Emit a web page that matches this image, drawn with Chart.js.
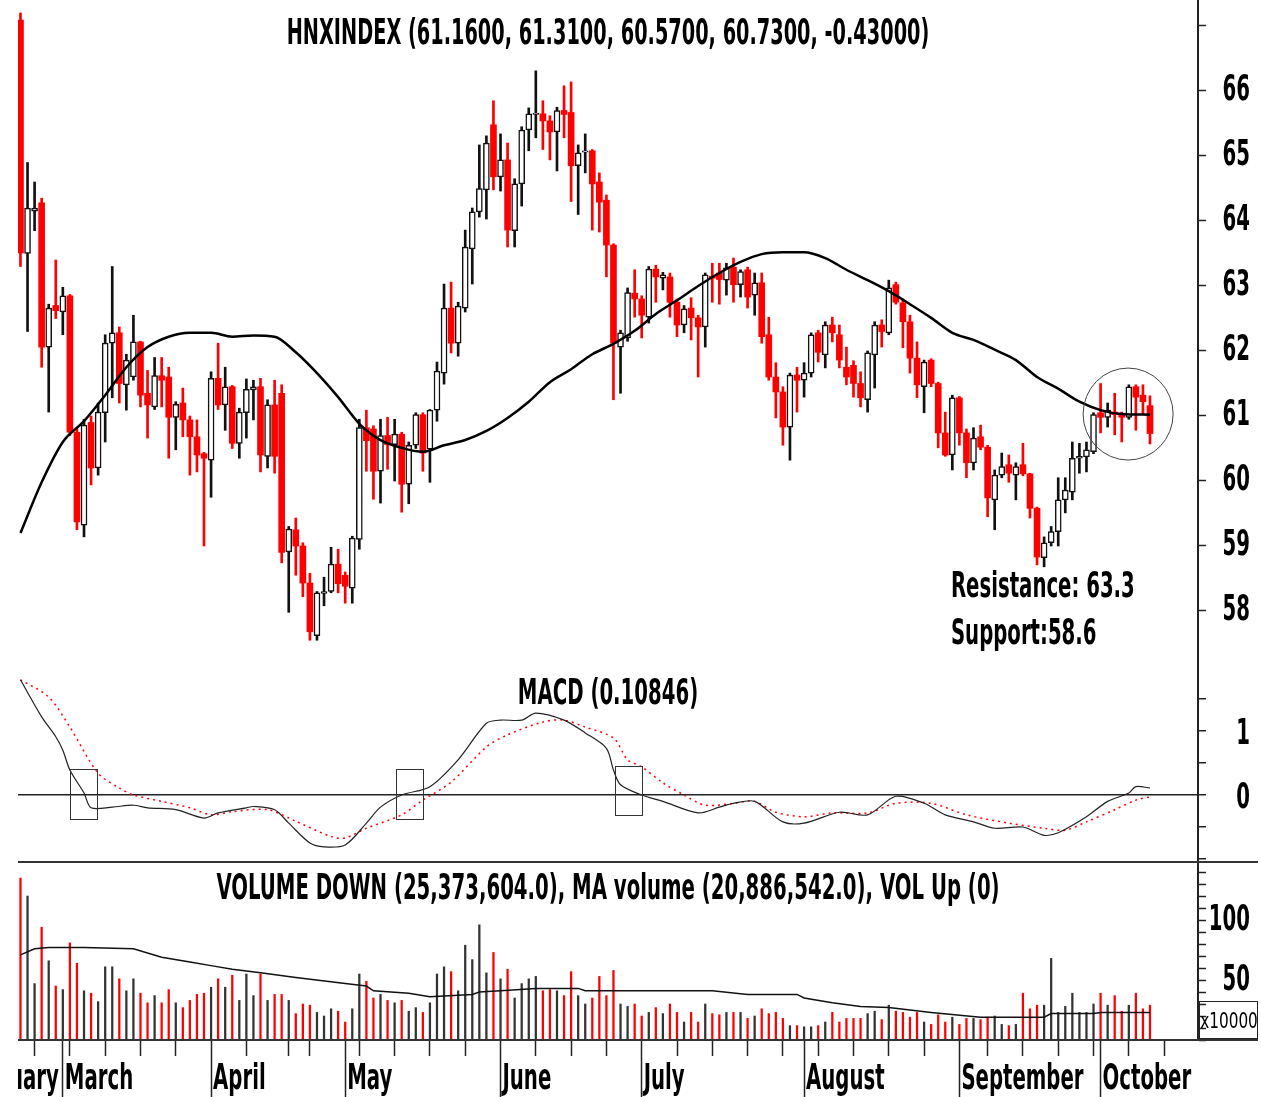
<!DOCTYPE html>
<html lang="en">
<head>
<meta charset="UTF-8">
<title>HNXINDEX</title>
<script src="https://cdn.jsdelivr.net/npm/chart.js"></script>
<style>
  body { margin: 0; background: #fff; }
  .wrap { position: relative; width: 1261px; height: 1097px; overflow: hidden; }
  .wrap canvas { position: absolute; left: 0; }
  #price { top: 0; }
  #macd { top: 668px; }
  #vol { top: 862px; }
  .hline { position: absolute; left: 18px; width: 1240px; height: 2px; background: #333; }
</style>
</head>
<body>
<div class="wrap">
  <canvas id="price" width="1261" height="668"></canvas>
  <canvas id="macd" width="1261" height="194"></canvas>
  <canvas id="vol" width="1261" height="235"></canvas>
  <div class="hline" style="top:861px"></div>
  <div class="hline" style="top:1039px"></div>
</div>

<script>
// candles, one per trading day (index 0 = first visible day)
const openV = [
  67.09,63.5,64.15,64.28,62.06,62.7,62.6,62.85,60.75,59.32,
  60.9,60.2,61.05,62.12,62.28,61.48,61.6,62.14,61.35,61.14,
  61.62,61.6,60.98,61.2,60.94,60.68,60.42,60.32,61.58,61.17,
  61.45,60.58,61.05,61.4,61.45,60.38,61.17,61.35,58.91,59.25,
  59.0,58.43,57.62,58.27,58.3,58.72,58.55,58.35,59.1,60.82,
  60.8,60.15,60.7,60.56,60.72,59.95,60.55,61.02,60.49,61.09,
  61.66,62.66,62.12,62.66,63.57,64.14,64.48,65.48,64.68,64.94,
  63.85,64.57,65.4,65.64,65.65,65.54,65.37,65.7,65.67,64.85,
  65.06,65.08,64.6,64.32,63.63,62.06,62.2,62.89,62.8,62.52,
  63.26,63.12,63.14,62.75,62.4,62.66,62.51,62.37,63.15,63.2,
  63.09,63.29,63.02,63.25,62.86,63.05,62.25,61.6,61.37,60.83,
  61.63,61.55,61.66,62.28,61.94,62.4,62.25,61.75,61.78,61.5,
  61.25,61.94,62.4,62.28,63.02,62.74,62.45,61.89,61.45,61.86,
  61.5,60.74,60.4,61.28,60.74,60.28,60.68,60.52,59.71,60.09,
  60.25,60.09,60.25,60.11,59.58,58.82,59.05,59.22,59.71,59.83,
  60.35,60.37,60.45,61.05,60.98,61.06,61.03,60.98,61.45,61.32,
  61.16
];
const highV = [
  67.2,64.9,64.6,64.35,62.72,63.4,62.98,62.87,60.8,60.95,
  61.0,61.2,62.25,63.3,62.37,61.95,62.55,62.15,61.7,61.9,
  61.9,61.75,61.22,61.43,61.0,60.94,60.44,61.68,62.12,61.75,
  61.47,61.12,61.57,61.55,61.58,61.25,61.55,61.48,59.3,59.43,
  59.05,58.58,58.3,58.52,58.98,58.95,58.6,59.15,60.95,61.09,
  60.85,60.95,60.98,60.95,60.75,60.6,61.05,61.05,61.1,61.83,
  63.03,63.06,62.75,63.86,64.2,65.17,65.31,65.85,65.34,65.2,
  64.65,65.45,65.74,66.31,65.85,65.62,65.75,66.08,66.14,65.17,
  65.34,65.1,64.74,64.4,63.65,62.32,62.97,63.25,62.85,63.3,
  63.32,63.21,63.2,62.8,62.7,62.82,62.55,63.2,63.35,63.35,
  63.35,63.43,63.25,63.29,63.2,63.2,62.52,61.82,61.45,61.66,
  61.75,61.82,62.28,62.32,62.45,62.52,62.4,62.06,61.85,61.68,
  62.0,62.45,62.48,63.09,63.06,62.8,62.55,62.14,61.86,61.88,
  61.52,61.06,61.32,61.3,60.8,60.82,60.86,60.55,60.17,60.43,
  60.4,60.28,60.58,60.12,59.6,59.14,59.3,60.05,60.05,60.6,
  60.58,60.6,61.05,61.5,61.2,61.35,61.06,61.48,61.48,61.48,
  61.31
];
const lowV = [
  63.3,62.3,63.85,61.75,61.06,62.5,62.25,60.7,59.25,59.14,
  59.94,60.09,60.6,61.28,61.2,61.09,61.55,61.14,60.66,61.1,
  61.14,60.35,60.48,60.68,60.09,60.14,59.0,59.75,61.1,60.78,
  60.5,60.35,60.66,60.94,60.14,60.2,60.12,58.74,57.98,58.55,
  58.22,57.55,57.55,58.08,58.28,58.28,58.12,58.12,58.95,60.15,
  59.72,59.66,60.18,60.0,59.52,59.65,60.5,60.15,59.98,60.92,
  61.49,61.97,61.92,62.6,63.03,64.06,64.03,64.48,64.46,63.6,
  63.6,64.23,65.08,65.28,65.1,64.94,64.77,65.28,64.3,64.1,
  64.74,63.86,63.83,63.14,61.25,61.35,62.15,62.52,62.2,62.43,
  62.75,62.94,62.52,62.22,62.28,62.17,61.6,62.06,62.75,62.72,
  62.86,62.75,62.83,62.66,62.55,62.12,61.55,60.97,60.55,60.32,
  61.06,61.29,61.6,61.83,61.74,62.14,61.74,61.48,61.29,61.14,
  61.06,61.43,62.06,62.25,62.72,62.05,61.66,61.28,61.05,61.45,
  60.51,60.38,60.17,60.55,60.05,60.17,60.48,59.45,59.25,60.05,
  59.98,59.71,60.08,59.43,58.71,58.68,59.0,59.0,59.51,59.71,
  60.12,60.14,60.42,60.74,60.83,60.71,60.6,60.95,60.78,61.02,
  60.57
];
const closeV = [
  63.51,64.2,64.2,62.06,62.66,62.62,62.85,60.75,59.37,60.86,
  60.2,61.06,62.12,62.28,61.5,61.86,62.14,61.32,61.17,61.62,
  61.55,60.98,61.18,60.94,60.68,60.4,60.35,61.58,61.17,61.45,
  60.58,61.06,61.41,61.45,60.4,61.17,60.38,58.9,59.26,59.0,
  58.43,57.68,58.28,58.3,58.72,58.42,58.38,59.12,60.82,60.62,
  60.15,60.7,60.56,60.72,59.95,60.55,61.02,60.43,61.09,61.69,
  62.66,62.12,62.69,63.6,64.14,64.5,65.2,64.68,64.94,63.86,
  64.57,65.4,65.65,65.66,65.54,65.37,65.7,65.64,64.85,65.05,
  65.08,64.57,64.29,63.63,62.12,62.28,62.9,62.8,62.55,63.26,
  63.14,63.17,62.75,62.4,62.65,62.51,62.37,63.17,63.12,63.1,
  63.28,63.02,63.22,62.83,63.05,62.22,61.6,61.37,60.83,61.63,
  61.55,61.66,62.25,61.98,62.4,62.28,61.86,61.6,61.5,61.28,
  61.97,62.4,62.3,62.97,62.75,62.45,61.89,61.48,61.83,61.5,
  60.74,60.4,61.28,60.74,60.28,60.66,60.52,59.74,60.09,60.22,
  60.12,60.22,60.11,59.58,58.83,59.05,59.22,59.71,59.86,60.35,
  60.38,60.48,61.02,60.98,61.09,61.02,60.98,61.45,61.29,61.22,
  60.73
];
// volume, x10000
const volV = [
  135,120,47,94,66,45,42,81,64,41,
  39,32,61,61,51,41,51,39,31,37,
  31,42,31,27,33,38,39,44,51,44,
  54,33,55,37,55,33,38,38,33,22,
  30,29,23,20,26,24,15,26,55,49,
  35,38,33,31,33,24,27,23,31,55,
  61,57,41,79,67,96,56,73,51,59,
  35,47,51,53,41,42,41,37,57,37,
  30,35,53,37,58,30,28,30,20,23,
  27,22,30,23,15,23,15,30,22,21,
  23,23,23,18,20,26,22,23,18,12,
  12,11,11,12,15,23,15,18,18,18,
  22,24,17,29,24,23,19,23,15,13,
  21,15,19,13,18,18,17,19,20,13,
  12,13,39,26,29,29,68,23,28,39,
  23,23,30,39,29,37,24,29,39,26,
  29
];

// moving average of price, read at these day indices
const maIdx = [0,3,6,9,12,15,18,21,24,27,30,33,36,39,42,45,48,51,54,57,60,63,66,69,72,75,78,81,84,87,90,93,96,99,102,105,108,111,114,117,120,123,126,129,132,135,138,141,144,147,150,153,156,160];
const maVal = [59.2,59.98,60.6,60.92,61.32,61.75,62.06,62.22,62.28,62.28,62.22,62.24,62.22,61.98,61.66,61.29,60.88,60.63,60.51,60.45,60.55,60.63,60.77,60.97,61.22,61.52,61.72,61.95,62.11,62.31,62.57,62.78,63.0,63.2,63.37,63.49,63.52,63.52,63.43,63.25,63.09,62.92,62.72,62.51,62.28,62.17,62.02,61.86,61.6,61.42,61.22,61.09,61.03,61.02];

// MACD and its signal line
const macdIdx = [0,3,5,6,7,9,10,13,16,18,22,26,28,32,33,36,38,41,43,46,49,51,54,58,62,66,68,71,73,77,80,83,84,85,88,91,96,99,101,104,108,111,116,120,124,128,131,135,138,142,145,147,151,154,157,158,160];
const macdVal = [1.8,1.22,0.91,0.7,0.39,0.03,-0.2,-0.19,-0.16,-0.2,-0.23,-0.36,-0.28,-0.2,-0.18,-0.23,-0.44,-0.75,-0.81,-0.78,-0.44,-0.19,0,0.13,0.55,1.12,1.17,1.17,1.28,1.17,0.97,0.73,0.39,0.16,0,-0.1,-0.28,-0.19,-0.13,-0.1,-0.42,-0.44,-0.27,-0.31,-0.02,-0.13,-0.31,-0.42,-0.52,-0.5,-0.63,-0.59,-0.34,-0.1,0.03,0.13,0.11];
const sigIdx = [0,4,7,11,14,16,20,24,27,30,35,39,44,46,49,54,57,61,66,69,74,77,80,84,86,88,91,94,97,101,104,107,111,115,120,124,129,134,140,145,148,151,155,158,160];
const sigVal = [1.8,1.53,1.06,0.34,0.11,0,-0.1,-0.2,-0.31,-0.26,-0.23,-0.41,-0.65,-0.67,-0.52,-0.31,-0.08,0.2,0.75,0.94,1.14,1.17,1.06,0.89,0.55,0.44,0.19,0,-0.16,-0.13,-0.1,-0.27,-0.34,-0.28,-0.28,-0.13,-0.13,-0.31,-0.44,-0.52,-0.55,-0.42,-0.23,-0.08,-0.03];

// moving average of volume
const vmaIdx = [0,2,4,9,16,20,24,27,30,34,39,46,49,50,55,58,64,65,68,73,79,80,88,98,103,110,111,115,119,123,129,136,145,146,152,153,160];
const vmaVal = [71,76,77,77,76,69,65,62,59,56,52,47,45,41,39,36,38,40,41,43,43,41,41,41,38,38,35,31,28,27,23,19,19,22,22,23,23];

// date axis
const monthStart = [6, 27, 46, 68, 88, 111, 133, 153];
const monthNames = ['March', 'April', 'May', 'June', 'July', 'August', 'September', 'October'];
const weekTicks = [2, 7, 12, 17, 22, 32, 38, 41, 48, 53, 58, 63, 73, 78, 83, 93, 98, 103, 108, 113, 118, 123, 128, 137, 142, 147, 152, 157, 162];

const priceTicks = [58, 59, 60, 61, 62, 63, 64, 65, 66, 67];
const priceLabels = [58, 59, 60, 61, 62, 63, 64, 65, 66];
const macdTicks = [-1, -0.5, 0, 0.5, 1, 1.5];
const macdLabels = [0, 1];
const volTicks = [0, 10, 20, 30, 40, 50, 60, 70, 80, 90, 100, 110, 120, 130, 140];
const volLabels = [50, 100];

const FONT = "'DejaVu Sans Condensed', 'DejaVu Sans', sans-serif";
Chart.defaults.font.family = FONT;
Chart.defaults.color = '#000';

const X_MIN = -0.35, X_MAX = 166.8;
const RED = '#ff0000', INK = '#111';
const SX = 0.73, SY = 1.18;   // the source lettering is tall and narrow

const isUp = i => closeV[i] >= openV[i];
const days = openV.map((_, i) => i);

function drawText(ctx, text, x, y, align, size, sx) {
  ctx.save();
  ctx.font = 'bold ' + size + 'px ' + FONT;
  ctx.textAlign = align;
  ctx.textBaseline = 'middle';
  ctx.fillStyle = '#000';
  ctx.translate(x, y);
  ctx.scale(sx || SX, SY);
  ctx.fillText(text, 0, 0);
  ctx.restore();
}

function hiddenX() {
  return { type: 'linear', min: X_MIN, max: X_MAX, offset: false, display: false, grid: { offset: false } };
}

function rightAxis(min, max, tickVals, grid) {
  return {
    type: 'linear', position: 'right', min: min, max: max,
    afterBuildTicks: s => { s.ticks = tickVals.map(v => ({ value: v })); },
    afterFit: s => { s.width = 52; s.paddingTop = 0; s.paddingBottom = 0; },
    border: { display: true, color: '#222', width: 2 },
    grid: Object.assign({ drawOnChartArea: false, tickLength: 8, tickColor: '#222', tickWidth: 1.5 }, grid || {}),
    ticks: { display: false, autoSkip: false }
  };
}

// titles, notes, boxes, ring and the axis labels of each panel
const overlay = {
  id: 'overlay',
  afterDraw(chart, args, o) {
    const ctx = chart.ctx, a = chart.chartArea;
    const xs = chart.scales.x, ys = chart.scales.y;
    (o.texts || []).forEach(t => {
      const px = t.x === undefined ? (a.left + a.right) / 2 : xs.getPixelForValue(t.x);
      const py = t.py !== undefined ? t.py : ys.getPixelForValue(t.y);
      drawText(ctx, t.text, px, py, t.align || 'center', 30, t.sx);
    });
    // right axis labels, placed by the y scale
    const yl = o.yLabels || [];
    ys.ticks.forEach(t => {
      if (yl.includes(t.value)) {
        drawText(ctx, String(t.value), a.right + 52, ys.getPixelForValue(t.value) + (o.yShift || 0), 'right', 30);
      }
    });
    ctx.save();
    ctx.strokeStyle = '#333';
    ctx.lineWidth = 1;
    (o.boxes || []).forEach(b => {
      const x0 = xs.getPixelForValue(b[0]), x1 = xs.getPixelForValue(b[1]);
      const y0 = ys.getPixelForValue(b[2]), y1 = ys.getPixelForValue(b[3]);
      ctx.strokeRect(Math.round(x0) + 0.5, Math.round(y0) + 0.5, Math.round(x1 - x0), Math.round(y1 - y0));
    });
    if (o.ring) {
      ctx.strokeStyle = '#444';
      ctx.beginPath();
      ctx.ellipse(xs.getPixelForValue(o.ring.x), ys.getPixelForValue(o.ring.y), o.ring.rx, o.ring.ry, 0, 0, Math.PI * 2);
      ctx.stroke();
    }
    ctx.restore();
  }
};

// month names on the date axis, the clipped February, and the unit box
const dateAxis = {
  id: 'dateAxis',
  afterDraw(chart) {
    const ctx = chart.ctx, a = chart.chartArea, xs = chart.scales.x;
    const ly = a.bottom + 40;
    xs.ticks.forEach(t => {
      const k = monthStart.indexOf(t.value);
      if (k >= 0) drawText(ctx, monthNames[k], xs.getPixelForValue(t.value) + 2, ly, 'left', 30);
    });
    ctx.save();
    ctx.beginPath();
    ctx.rect(a.left, a.bottom, a.right - a.left, 100);
    ctx.clip();
    drawText(ctx, 'February', xs.getPixelForValue(monthStart[0]) - 4, ly, 'right', 30);
    ctx.restore();

    ctx.save();
    ctx.strokeStyle = '#222';
    ctx.lineWidth = 1;
    ctx.strokeRect(1199.5, 139.5, 58, 37);
    ctx.restore();
    ctx.save();
    ctx.font = '20px ' + FONT;
    ctx.fillStyle = '#000';
    ctx.textAlign = 'center';
    ctx.textBaseline = 'middle';
    ctx.translate(1229, 160);
    ctx.scale(0.85, 1.1);
    ctx.fillText('x10000', 0, 0);
    ctx.restore();
  }
};

// price panel
new Chart(document.getElementById('price'), {
  type: 'bar',
  data: {
    datasets: [
      {
        type: 'line', order: 1,
        data: maIdx.map((x, k) => ({ x: x, y: maVal[k] })),
        borderColor: '#000', borderWidth: 2.5, pointRadius: 0,
        cubicInterpolationMode: 'monotone'
      },
      {
        order: 2, grouped: false, barThickness: 6, borderSkipped: false,
        data: days.map(i => ({ x: i, y: [Math.min(openV[i], closeV[i]), Math.max(openV[i], closeV[i])] })),
        backgroundColor: days.map(i => isUp(i) ? '#fff' : RED),
        borderColor: days.map(i => isUp(i) ? INK : RED),
        borderWidth: days.map(i => isUp(i) ? 1.5 : 0)
      },
      {
        order: 3, grouped: false, barThickness: 2,
        data: days.map(i => ({ x: i, y: [lowV[i], highV[i]] })),
        backgroundColor: days.map(i => isUp(i) ? INK : RED)
      }
    ]
  },
  options: {
    responsive: false, animation: false,
    layout: { padding: { left: 18, right: 11, top: 0, bottom: 0 } },
    plugins: {
      legend: { display: false }, tooltip: { enabled: false },
      overlay: {
        texts: [
          { text: 'HNXINDEX (61.1600, 61.3100, 60.5700, 60.7300, -0.43000)', py: 35, sx: 0.715 },
          { text: 'Resistance: 63.3', x: 131.8, y: 58.35, align: 'left' },
          { text: 'Support:58.6', x: 131.8, y: 57.63, align: 'left' }
        ],
        yLabels: priceLabels,
        ring: { x: 156.9, y: 61.03, rx: 45, ry: 46 }
      }
    },
    scales: {
      x: hiddenX(),
      y: rightAxis(57.123, 67.4, priceTicks)
    }
  },
  plugins: [overlay]
});

// MACD panel
new Chart(document.getElementById('macd'), {
  type: 'line',
  data: {
    datasets: [
      {
        data: macdIdx.map((x, k) => ({ x: x, y: macdVal[k] })),
        borderColor: '#222', borderWidth: 1.2, pointRadius: 0, tension: 0.3
      },
      {
        data: sigIdx.map((x, k) => ({ x: x, y: sigVal[k] })),
        borderColor: RED, borderWidth: 1.5, borderDash: [2, 4], pointRadius: 0, tension: 0.3
      }
    ]
  },
  options: {
    responsive: false, animation: false,
    layout: { padding: { left: 18, right: 11, top: 0, bottom: 0 } },
    plugins: {
      legend: { display: false }, tooltip: { enabled: false },
      overlay: {
        texts: [{ text: 'MACD (0.10846)', py: 27 }],
        yLabels: macdLabels, yShift: 4,
        boxes: [[7.0, 10.8, 0.41, -0.375], [53.2, 57.0, 0.41, -0.375], [84.2, 88.0, 0.45, -0.31]]
      }
    },
    scales: {
      x: hiddenX(),
      y: rightAxis(-1.047, 1.984, macdTicks, {
        drawOnChartArea: true, lineWidth: 1.5,
        color: c => (c.tick && c.tick.value === 0) ? '#222' : 'rgba(0,0,0,0)'
      })
    }
  },
  plugins: [overlay]
});

// volume panel with the date axis
new Chart(document.getElementById('vol'), {
  type: 'bar',
  data: {
    datasets: [
      {
        type: 'line', order: 1,
        data: vmaIdx.map((x, k) => ({ x: x, y: vmaVal[k] })),
        borderColor: '#111', borderWidth: 1.5, pointRadius: 0, tension: 0
      },
      {
        order: 2, grouped: false, barThickness: 1.6,
        data: days.map(i => ({ x: i, y: volV[i] })),
        backgroundColor: days.map(i => isUp(i) ? '#333' : RED)
      }
    ]
  },
  options: {
    responsive: false, animation: false,
    layout: { padding: { left: 18, right: 11, top: 2, bottom: 0 } },
    plugins: {
      legend: { display: false }, tooltip: { enabled: false },
      overlay: {
        texts: [{ text: 'VOLUME DOWN (25,373,604.0), MA volume (20,886,542.0), VOL Up (0)', py: 28 }],
        yLabels: volLabels, yShift: 1
      }
    },
    scales: {
      x: {
        type: 'linear', min: X_MIN, max: X_MAX, offset: false, position: 'bottom',
        afterBuildTicks: s => { s.ticks = weekTicks.concat(monthStart).sort((p, q) => p - q).map(v => ({ value: v })); },
        afterFit: s => { s.height = 57; s.paddingLeft = 0; s.paddingRight = 0; },
        border: { display: false },
        grid: {
          drawOnChartArea: false, offset: false, tickLength: 57, tickWidth: 1.5, tickColor: '#222',
          tickBorderDash: c => (c.tick && monthStart.includes(c.tick.value)) ? [] : [16, 200]
        },
        ticks: { display: false, autoSkip: false }
      },
      y: rightAxis(0, 146.7, volTicks)
    }
  },
  plugins: [overlay, dateAxis]
});
</script>
</body>
</html>
